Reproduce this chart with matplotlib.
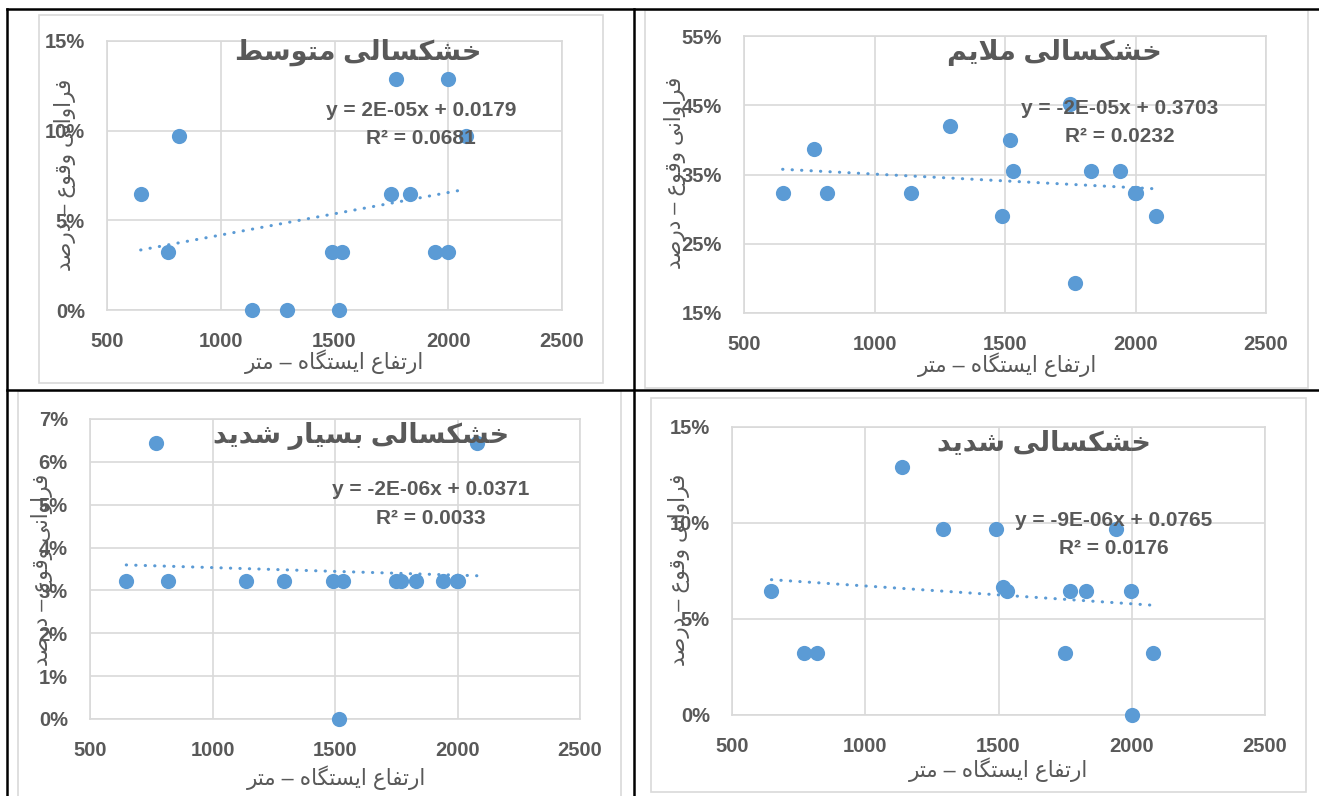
import numpy as np
import matplotlib
matplotlib.use("Agg")
import matplotlib.pyplot as plt
from matplotlib.ticker import PercentFormatter
from matplotlib.lines import Line2D
from matplotlib.patches import Rectangle

plt.rcParams['font.family'] = ['Liberation Sans', 'DejaVu Sans']

# station elevation (m)
elev = [648, 770, 818, 1138, 1290, 1490, 1518, 1532, 1748, 1769, 1830, 1940, 1998, 2000, 2079]

# frequency of occurrence for each drought class
moderate = [0.0645, 0.0323, 0.0968, 0.0, 0.0, 0.0323, 0.0, 0.0323, 0.0645, 0.1290,
            0.0645, 0.0323, 0.1290, 0.0323, 0.0968]
mild = [0.3226, 0.3871, 0.3226, 0.3226, 0.4194, 0.2903, 0.4000, 0.3548, 0.4516, 0.1935,
        0.3548, 0.3548, 0.3226, 0.3226, 0.2903]
very_severe = [0.0323, 0.0645, 0.0323, 0.0323, 0.0323, 0.0323, 0.0, 0.0323, 0.0323, 0.0323,
               0.0323, 0.0323, 0.0323, 0.0323, 0.0645]
severe = [0.0645, 0.0323, 0.0323, 0.1290, 0.0968, 0.0968, 0.0667, 0.0645, 0.0323, 0.0645,
          0.0645, 0.0968, 0.0645, 0.0, 0.0323]

titles = ["خشکسالی متوسط", "خشکسالی ملایم", "خشکسالی بسیار شدید", "خشکسالی شدید"]
equations = ["y = 2E-05x + 0.0179", "y = -2E-05x + 0.3703",
             "y = -2E-06x + 0.0371", "y = -9E-06x + 0.0765"]
r2_texts = ["R² = 0.0681", "R² = 0.0232", "R² = 0.0033", "R² = 0.0176"]
xlabel = "ارتفاع ایستگاه – متر"
ylabel = "فراوانی وقوع – درصد"

# arabic presentation forms: isolated, final, initial, medial
FORMS = {
    'ا': ('\uFE8D', '\uFE8E', None, None),
    'ب': ('\uFE8F', '\uFE90', '\uFE91', '\uFE92'),
    'ت': ('\uFE95', '\uFE96', '\uFE97', '\uFE98'),
    'خ': ('\uFEA5', '\uFEA6', '\uFEA7', '\uFEA8'),
    'د': ('\uFEA9', '\uFEAA', None, None),
    'ر': ('\uFEAD', '\uFEAE', None, None),
    'س': ('\uFEB1', '\uFEB2', '\uFEB3', '\uFEB4'),
    'ش': ('\uFEB5', '\uFEB6', '\uFEB7', '\uFEB8'),
    'ص': ('\uFEB9', '\uFEBA', '\uFEBB', '\uFEBC'),
    'ط': ('\uFEC1', '\uFEC2', '\uFEC3', '\uFEC4'),
    'ع': ('\uFEC9', '\uFECA', '\uFECB', '\uFECC'),
    'ف': ('\uFED1', '\uFED2', '\uFED3', '\uFED4'),
    'ق': ('\uFED5', '\uFED6', '\uFED7', '\uFED8'),
    'ک': ('\uFB8E', '\uFB8F', '\uFB90', '\uFB91'),
    'گ': ('\uFB92', '\uFB93', '\uFB94', '\uFB95'),
    'ل': ('\uFEDD', '\uFEDE', '\uFEDF', '\uFEE0'),
    'م': ('\uFEE1', '\uFEE2', '\uFEE3', '\uFEE4'),
    'ن': ('\uFEE5', '\uFEE6', '\uFEE7', '\uFEE8'),
    'ه': ('\uFEE9', '\uFEEA', '\uFEEB', '\uFEEC'),
    'و': ('\uFEED', '\uFEEE', None, None),
    'ی': ('\uFBFC', '\uFBFD', '\uFBFE', '\uFBFF'),
}


def shape(text):
    chars = list(text)
    n = len(chars)
    res = []
    i = 0
    while i < n:
        c = chars[i]
        if c not in FORMS:
            res.append(c)
            i += 1
            continue
        prev = chars[i - 1] if i > 0 else ''
        prev_join = prev in FORMS and FORMS[prev][2] is not None
        if c == 'ل' and i + 1 < n and chars[i + 1] == 'ا':
            res.append('\uFEFC' if prev_join else '\uFEFB')
            i += 2
            continue
        nxt = chars[i + 1] if i + 1 < n else ''
        next_join = FORMS[c][2] is not None and nxt in FORMS
        iso, fin, ini, med = FORMS[c]
        if prev_join and next_join:
            g = med
        elif prev_join:
            g = fin
        elif next_join:
            g = ini
        else:
            g = iso
        res.append(g)
        i += 1
    return ''.join(reversed(res))


W, H = 1319, 796
fig = plt.figure(figsize=(W / 100, H / 100), dpi=100)

def box(l, t, r, b):
    return [l / W, 1 - b / H, (r - l) / W, (b - t) / H]

def fx(x):
    return x / W

def fy(y):
    return 1 - y / H

blue = '#5B9BD5'
grey = '#595959'
grid = '#D9D9D9'

# chart area borders (grey)
for l, t, r, b in [(39, 15, 603, 383), (645, 10, 1308, 388), (18, 391, 621, 805), (651, 398, 1306, 792)]:
    fig.add_artist(Rectangle((fx(l), fy(b)), (r - l) / W, (b - t) / H, transform=fig.transFigure,
                             fill=False, edgecolor=grid, linewidth=1.2))

series = [moderate, mild, very_severe, severe]
plot_boxes = [(107, 41, 562, 310), (744, 36, 1266, 313), (90, 419, 580, 719), (732, 427, 1265, 715)]
ylims = [(0, 0.15, 0.05), (0.15, 0.55, 0.10), (0, 0.07, 0.01), (0, 0.15, 0.05)]
title_pos = [(358, 52), (1054, 53), (361, 436), (1044, 444)]
eq_pos = [(421, 110, 138), (1120, 108, 137), (431, 490, 518), (1114, 521, 549)]
xlab_pos = [(335, 362), (1008, 365), (337, 778), (999, 770)]
ylab_pos = [(65, 175), (675, 173), (42, 570), (679, 570)]

for k in range(4):
    ax = fig.add_axes(box(*plot_boxes[k]))
    y0, y1, step = ylims[k]
    ax.set_xlim(500, 2500)
    ax.set_ylim(y0, y1)
    ax.set_xticks(np.arange(500, 2501, 500))
    ax.set_yticks(np.arange(y0, y1 + step / 2, step))
    ax.yaxis.set_major_formatter(PercentFormatter(xmax=1, decimals=0))
    ax.grid(True, color=grid, linewidth=1.2)
    ax.set_axisbelow(True)
    for s in ax.spines.values():
        s.set_color(grid)
        s.set_linewidth(1.2)
    ax.tick_params(length=0, labelsize=14.5, labelcolor=grey, pad=16)
    for lab in ax.get_xticklabels() + ax.get_yticklabels():
        lab.set_fontweight('bold')

    x = np.array(elev, dtype=float)
    y = np.array(series[k])
    ax.scatter(x, y, s=120, color=blue, zorder=3, clip_on=False, linewidths=0)
    a, b = np.polyfit(x, y, 1)
    xs = np.array([x.min(), x.max()])
    ax.plot(xs, a * xs + b, color=blue, linewidth=2.2, linestyle=(0, (0.1, 3.0)),
            dash_capstyle='round', zorder=4, clip_on=False)

    tx, ty = title_pos[k]
    fig.text(fx(tx), fy(ty), shape(titles[k]), ha='center', va='center', fontsize=19.5,
             fontweight='bold', color=grey, zorder=10)
    ex, ey1, ey2 = eq_pos[k]
    fig.text(fx(ex), fy(ey1), equations[k], ha='center', va='center', fontsize=15,
             fontweight='bold', color=grey, zorder=10)
    fig.text(fx(ex), fy(ey2), r2_texts[k], ha='center', va='center', fontsize=15,
             fontweight='bold', color=grey, zorder=10)
    lx, ly = xlab_pos[k]
    fig.text(fx(lx), fy(ly), shape(xlabel), ha='center', va='center', fontsize=15.5, color=grey)
    vx, vy = ylab_pos[k]
    fig.text(fx(vx), fy(vy), shape(ylabel), ha='center', va='center', fontsize=15.5,
             color=grey, rotation=90)

# table frame lines (black)
for (x0, y0_), (x1, y1_) in [((7, 9), (1319, 9)), ((7, 390), (1319, 390)),
                              ((7, 9), (7, 796)), ((634, 9), (634, 796))]:
    fig.add_artist(Line2D([fx(x0), fx(x1)], [fy(y0_), fy(y1_)], transform=fig.transFigure,
                          color='black', linewidth=1.8))

fig.savefig("out.png", dpi=100)
